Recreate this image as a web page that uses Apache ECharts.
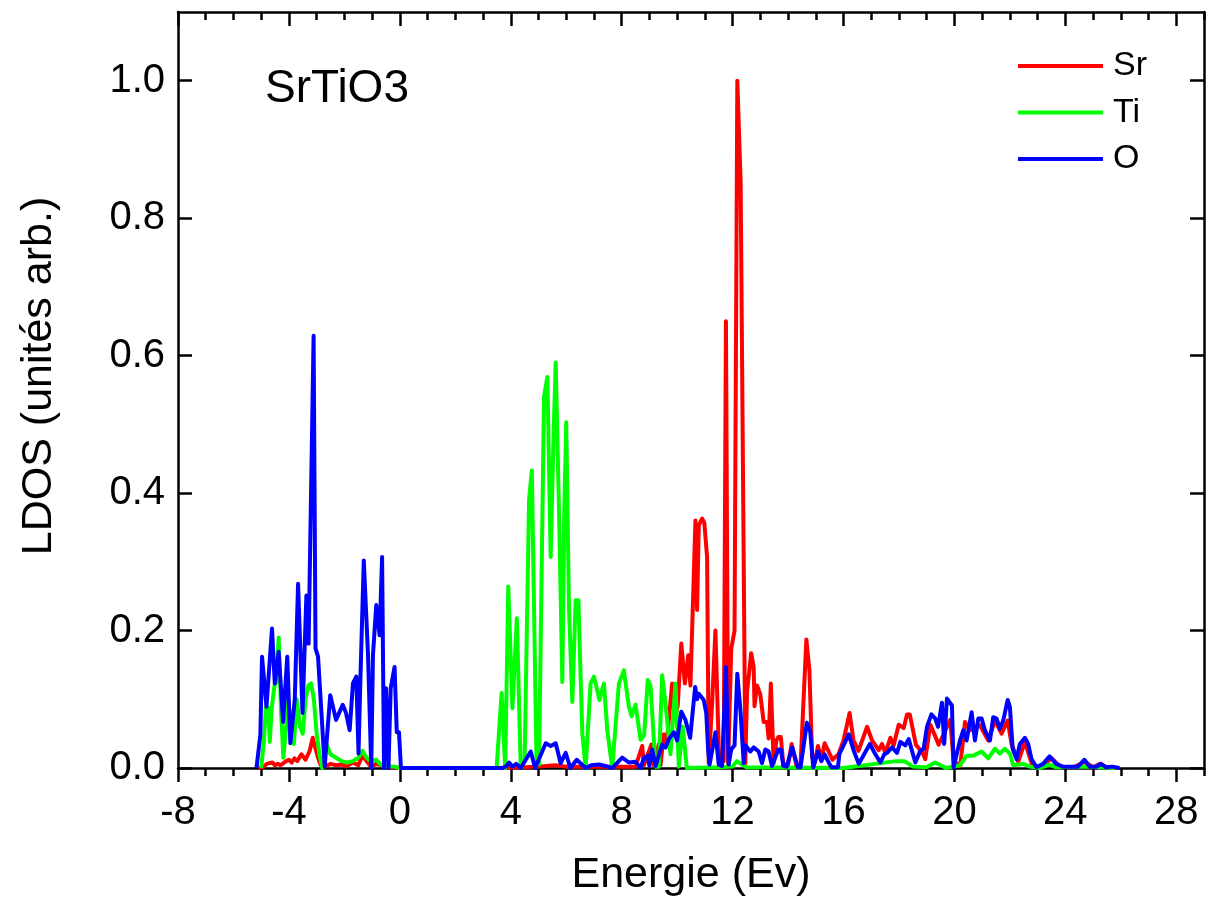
<!DOCTYPE html>
<html>
<head>
<meta charset="utf-8">
<title>SrTiO3 LDOS</title>
<script src="https://cdn.jsdelivr.net/npm/echarts@6/dist/echarts.min.js"></script>
<style>
  html, body { margin: 0; padding: 0; background: #ffffff; }
  #chart { width: 1207px; height: 910px; }
</style>
</head>
<body>
<div id="chart"></div>
<script>
// Axis ticks
const xTicks = [-8, -4, 0, 4, 8, 12, 16, 20, 24, 28];
const yTicks = [0, 0.2, 0.4, 0.6, 0.8, 1.0];

// Legend / series names
const seriesNames = ['Sr', 'Ti', 'O'];

// Partial density of states, [energy (eV), LDOS (arb. units)]
const srDos = [
  [-5.1, 0], [-4.9, 0.002], [-4.8, 0.006], [-4.6, 0.008], [-4.5, 0.004], [-4.4, 0.006], [-4.3, 0.004],
  [-4.1, 0.01], [-4.0, 0.012], [-3.9, 0.008], [-3.8, 0.014], [-3.7, 0.01], [-3.55, 0.02], [-3.4, 0.012],
  [-3.25, 0.025], [-3.14, 0.044], [-3.05, 0.03], [-2.95, 0.015], [-2.85, 0.004], [-2.7, 0.002],
  [-2.5, 0.006], [-2.3, 0.004], [-2.1, 0.005], [-1.9, 0.003], [-1.7, 0.008], [-1.5, 0.004],
  [-1.35, 0.018], [-1.2, 0.01], [-1.05, 0.002], [-0.85, 0.006], [-0.6, 0.003], [-0.4, 0.002], [0.0, 0],
  [3.6, 0], [5.0, 0.002], [5.6, 0.004], [6.0, 0.002], [8.5, 0.002],
  [8.74, 0.032], [8.8, 0.004], [9.07, 0.034], [9.15, 0.004], [9.34, 0.035], [9.4, 0.004],
  [9.52, 0.049], [9.62, 0.035], [9.82, 0.123], [9.94, 0.079], [10.02, 0.09], [10.15, 0.181],
  [10.28, 0.123], [10.40, 0.164], [10.48, 0.12], [10.56, 0.227], [10.66, 0.36], [10.72, 0.23],
  [10.78, 0.353], [10.90, 0.363], [10.98, 0.357], [11.08, 0.307], [11.14, 0.007], [11.26, 0.093],
  [11.38, 0.2], [11.5, 0.03], [11.56, 0.007], [11.68, 0.01], [11.76, 0.65], [11.84, 0.007],
  [11.95, 0.173], [12.07, 0.2], [12.17, 1.0], [12.29, 0.853], [12.46, 0.007], [12.52, 0.11],
  [12.67, 0.167], [12.76, 0.147], [12.79, 0.09], [12.88, 0.12], [13.0, 0.107], [13.12, 0.067],
  [13.24, 0.067], [13.30, 0.043], [13.38, 0.123], [13.48, 0.007], [13.58, 0.04], [13.65, 0.045],
  [13.74, 0.045], [13.83, 0.005], [14.0, 0.005], [14.13, 0.035], [14.3, 0.004], [14.45, 0.004],
  [14.66, 0.187], [14.77, 0.142], [14.87, 0.015], [14.96, 0.008], [15.08, 0.032], [15.2, 0.012],
  [15.32, 0.036], [15.44, 0.026], [15.6, 0.012], [15.82, 0.02], [16.0, 0.04], [16.22, 0.08],
  [16.36, 0.04], [16.54, 0.025], [16.85, 0.06], [17.03, 0.04], [17.27, 0.026], [17.39, 0.035],
  [17.51, 0.022], [17.69, 0.044], [17.81, 0.033], [17.99, 0.063], [18.17, 0.058], [18.29, 0.078],
  [18.39, 0.078], [18.61, 0.034], [18.85, 0.022], [18.95, 0.013], [19.13, 0.063], [19.31, 0.046],
  [19.43, 0.034], [19.55, 0.044], [19.85, 0.07], [19.97, 0.01], [20.21, 0.003], [20.38, 0.067],
  [20.56, 0.055], [20.92, 0.062], [21.22, 0.04], [21.46, 0.069], [21.70, 0.05], [21.92, 0.069],
  [22.06, 0.035], [22.30, 0.009], [22.54, 0.038], [22.79, 0.006], [23.07, 0.001], [23.51, 0.014],
  [23.81, 0.002], [24.29, 0.001], [24.71, 0.009], [25.01, 0.001], [25.25, 0.006], [25.49, 0.001],
  [25.85, 0]
];

const tiDos = [
  [-5.0, 0], [-4.9, 0.04], [-4.83, 0.089], [-4.75, 0.088], [-4.69, 0.038], [-4.62, 0.087],
  [-4.52, 0.12], [-4.45, 0.125], [-4.37, 0.19], [-4.28, 0.08], [-4.2, 0.015], [-4.1, 0.06],
  [-4.02, 0.1], [-3.92, 0.05], [-3.82, 0.035], [-3.72, 0.1], [-3.6, 0.06], [-3.5, 0.05],
  [-3.4, 0.1], [-3.3, 0.12], [-3.2, 0.123], [-3.1, 0.1], [-3.0, 0.05], [-2.9, 0.02], [-2.8, 0.0],
  [-2.65, 0.035], [-2.5, 0.02], [-2.3, 0.015], [-2.1, 0.01], [-1.9, 0.008], [-1.7, 0.01],
  [-1.5, 0.015], [-1.35, 0.025], [-1.2, 0.015], [-1.05, 0.01], [-0.85, 0.012], [-0.7, 0.005],
  [-0.5, 0.003], [-0.2, 0.002], [0.0, 0],
  [3.49, 0], [3.67, 0.109], [3.80, 0], [3.91, 0.264], [4.06, 0.087], [4.22, 0.218], [4.36, 0],
  [4.50, 0.01], [4.66, 0.39], [4.76, 0.433], [4.93, 0.005], [5.02, 0.005], [5.20, 0.54],
  [5.32, 0.569], [5.44, 0.307], [5.53, 0.462], [5.62, 0.590], [5.74, 0.375], [5.86, 0.125],
  [5.92, 0.351], [6.00, 0.503], [6.10, 0.234], [6.22, 0.096], [6.34, 0.244], [6.44, 0.244],
  [6.58, 0.05], [6.70, 0], [6.88, 0.123], [7.0, 0.133], [7.2, 0.099], [7.36, 0.123], [7.48, 0.055],
  [7.66, 0], [7.90, 0.123], [8.08, 0.142], [8.26, 0.089], [8.36, 0.075], [8.50, 0.092],
  [8.68, 0.041], [8.81, 0.048], [8.94, 0.128], [9.04, 0.12], [9.22, 0.002], [9.34, 0.002],
  [9.46, 0.135], [9.58, 0.094], [9.76, 0.02], [9.94, 0.123], [10.06, 0.002], [10.20, 0.06],
  [10.35, 0], [11.5, 0.001], [12.0, 0.002], [12.15, 0.01], [12.3, 0.006], [12.5, 0.001],
  [16.0, 0.0], [17.9, 0.01], [18.2, 0.01], [18.5, 0.002], [19.0, 0.001], [19.3, 0.008],
  [19.7, 0.0], [20.2, 0.004], [20.44, 0.018], [20.68, 0.018], [20.98, 0.024], [21.22, 0.014],
  [21.46, 0.028], [21.64, 0.021], [21.82, 0.028], [22.0, 0.021], [22.12, 0.004], [22.48, 0.006],
  [22.72, 0.002], [23.07, 0], [23.43, 0.005], [23.67, 0.001], [24.7, 0.002], [25.8, 0]
];

const oDos = [
  [-5.17, 0], [-5.03, 0.048], [-4.97, 0.162], [-4.81, 0.089], [-4.61, 0.203], [-4.51, 0.123],
  [-4.37, 0.169], [-4.21, 0.067], [-4.06, 0.162], [-3.95, 0.036], [-3.79, 0.099], [-3.67, 0.268],
  [-3.51, 0.08], [-3.37, 0.251], [-3.29, 0.181], [-3.11, 0.629], [-3.04, 0.174], [-2.95, 0.162],
  [-2.71, 0.002], [-2.51, 0.106], [-2.30, 0.07], [-2.06, 0.092], [-1.94, 0.08], [-1.81, 0.055],
  [-1.69, 0.123], [-1.57, 0.133], [-1.49, 0.021], [-1.42, 0.133], [-1.30, 0.302], [-1.15, 0.167],
  [-1.03, 0.0], [-0.97, 0.164], [-0.85, 0.237], [-0.78, 0.237], [-0.73, 0.193], [-0.64, 0.307],
  [-0.57, 0.0], [-0.50, 0.116], [-0.41, 0], [-0.33, 0.116], [-0.19, 0.147], [-0.11, 0.052],
  [-0.03, 0.052], [0.04, 0],
  [3.7, 0], [3.85, 0.003], [3.94, 0.008], [4.05, 0.002], [4.2, 0.006], [4.36, 0], [4.72, 0.024],
  [4.88, 0], [5.26, 0.036], [5.44, 0.032], [5.62, 0.036], [5.80, 0.007], [5.98, 0.022], [6.15, 0],
  [6.38, 0.012], [6.7, 0], [6.9, 0.004], [7.2, 0.005], [7.4, 0.003], [7.66, 0], [8.02, 0.015],
  [8.26, 0.008], [8.5, 0.009], [8.68, 0], [8.81, 0.015], [8.94, 0.018], [9.0, 0.003], [9.10, 0.027],
  [9.22, 0.003], [9.46, 0.034], [9.58, 0.03], [9.70, 0.042], [9.88, 0.052], [10.0, 0.04],
  [10.15, 0.082], [10.3, 0.07], [10.47, 0.044], [10.65, 0.118], [10.72, 0.1], [10.78, 0.108],
  [10.96, 0.099], [11.05, 0.08], [11.12, 0.025], [11.17, 0.005], [11.26, 0.025], [11.38, 0.052],
  [11.5, 0.005], [11.62, 0.003], [11.76, 0.147], [11.86, 0.005], [11.95, 0.027], [12.07, 0.033],
  [12.17, 0.137], [12.29, 0.08], [12.40, 0.007], [12.46, 0.033], [12.64, 0.024], [12.76, 0.03],
  [12.94, 0.024], [13.06, 0.007], [13.18, 0.027], [13.30, 0.024], [13.42, 0.003], [13.65, 0.027],
  [13.74, 0.027], [13.83, 0.003], [13.95, 0.002], [14.15, 0.03], [14.35, 0.001], [14.45, 0.001],
  [14.68, 0.066], [14.8, 0.053], [14.91, 0.001], [15.08, 0.024], [15.2, 0.01], [15.32, 0.02],
  [15.44, 0.01], [15.56, 0.001], [15.8, 0.001], [15.85, 0.02], [16.19, 0.049], [16.37, 0.025],
  [16.55, 0.006], [16.95, 0.035], [17.15, 0.02], [17.33, 0.008], [17.47, 0.02], [17.57, 0.022],
  [17.75, 0.03], [17.93, 0.022], [18.05, 0.038], [18.23, 0.033], [18.35, 0.042], [18.59, 0.008],
  [18.77, 0.025], [18.89, 0.028], [19.01, 0.06], [19.17, 0.078], [19.31, 0.072], [19.41, 0.06],
  [19.55, 0.095], [19.63, 0.035], [19.73, 0.101], [19.91, 0.091], [19.97, 0.001], [20.2, 0.04],
  [20.32, 0.055], [20.44, 0.04], [20.62, 0.081], [20.74, 0.04], [20.86, 0.072], [20.98, 0.072],
  [21.10, 0.055], [21.28, 0.04], [21.40, 0.074], [21.52, 0.072], [21.64, 0.057], [21.76, 0.069],
  [21.92, 0.099], [22.0, 0.089], [22.10, 0.028], [22.24, 0.013], [22.36, 0.035], [22.54, 0.044],
  [22.66, 0.035], [22.78, 0.013], [22.96, 0.001], [23.2, 0.006], [23.43, 0.017], [23.67, 0.006],
  [23.91, 0.002], [24.45, 0.002], [24.69, 0.012], [24.87, 0.002], [25.11, 0.002], [25.29, 0.006],
  [25.47, 0.001], [25.69, 0.002], [25.95, 0]
];

const seriesData = [srDos, tiDos, oDos];
const seriesColors = ['#ff0000', '#00ff00', '#0000ff'];

const FONT = "'Liberation Sans', Arial, Helvetica, sans-serif";
const axisLineStyle = { color: '#000000', width: 2.5 };
const gridBox = { left: 178, right: 3, top: 12, bottom: 142 };

const chart = echarts.init(document.getElementById('chart'), null, { renderer: 'canvas' });

const option = {
  animation: false,
  backgroundColor: '#ffffff',
  title: {
    text: 'SrTiO3',
    left: 265,
    top: 66,
    padding: 0,
    textStyle: { fontFamily: FONT, fontSize: 46, fontWeight: 'normal', color: '#000000' }
  },
  legend: {
    data: seriesNames,
    orient: 'vertical',
    left: 1018,
    top: 49,
    padding: 0,
    itemGap: 12.5,
    itemWidth: 85,
    itemHeight: 4,
    icon: 'rect',
    textStyle: { fontFamily: FONT, fontSize: 34, lineHeight: 34, color: '#000000', padding: [0, 0, 0, 5] }
  },
  grid: [
    Object.assign({}, gridBox),
    Object.assign({}, gridBox)
  ],
  xAxis: [
    {
      gridIndex: 0, type: 'value', position: 'bottom', min: -8, max: 29, interval: 4,
      name: 'Energie (Ev)', nameLocation: 'middle', nameGap: 86,
      nameTextStyle: { fontFamily: FONT, fontSize: 43, color: '#000000' },
      axisLine: { show: true, onZero: false, lineStyle: axisLineStyle },
      axisTick: { show: true, inside: false, length: 14, customValues: xTicks, lineStyle: axisLineStyle },
      axisLabel: { customValues: xTicks, fontFamily: FONT, fontSize: 40, color: '#000000', margin: 25,
                   formatter: v => String(v) },
      splitLine: { show: false }
    },
    {
      gridIndex: 0, type: 'value', position: 'top', min: -8, max: 29, interval: 4,
      axisLine: { show: true, onZero: false, lineStyle: axisLineStyle },
      axisTick: { show: true, inside: true, length: 14, customValues: xTicks, lineStyle: axisLineStyle },
      axisLabel: { show: false },
      splitLine: { show: false }
    },
    {
      gridIndex: 1, type: 'value', position: 'bottom', min: -8, max: 29, interval: 1,
      axisLine: { show: false, onZero: false },
      axisTick: { show: true, inside: false, length: 8, lineStyle: axisLineStyle },
      axisLabel: { show: false },
      splitLine: { show: false }
    },
    {
      gridIndex: 1, type: 'value', position: 'top', min: -8, max: 29, interval: 1,
      axisLine: { show: false, onZero: false },
      axisTick: { show: true, inside: true, length: 8, lineStyle: axisLineStyle },
      axisLabel: { show: false },
      splitLine: { show: false }
    }
  ],
  yAxis: [
    {
      gridIndex: 0, type: 'value', position: 'left', min: 0, max: 1.1, interval: 0.2,
      name: 'LDOS (unités arb.)', nameLocation: 'middle', nameGap: 117, nameRotate: 90,
      nameTextStyle: { fontFamily: FONT, fontSize: 43, color: '#000000', padding: [0, 0, 0, 28] },
      axisLine: { show: true, onZero: false, lineStyle: axisLineStyle },
      axisTick: { show: true, inside: true, length: 14, customValues: yTicks, lineStyle: axisLineStyle },
      axisLabel: { customValues: yTicks, fontFamily: FONT, fontSize: 40, color: '#000000', margin: 13,
                   formatter: v => v.toFixed(1) },
      splitLine: { show: false }
    },
    {
      gridIndex: 0, type: 'value', position: 'right', min: 0, max: 1.1, interval: 0.2,
      axisLine: { show: true, onZero: false, lineStyle: axisLineStyle },
      axisTick: { show: true, inside: true, length: 14, customValues: yTicks, lineStyle: axisLineStyle },
      axisLabel: { show: false },
      splitLine: { show: false }
    },
    {
      gridIndex: 1, type: 'value', min: 0, max: 1.1, show: false
    }
  ],
  series: seriesNames.map((name, i) => ({
    name: name,
    type: 'line',
    xAxisIndex: 0,
    yAxisIndex: 0,
    data: seriesData[i],
    showSymbol: false,
    symbol: 'none',
    clip: true,
    z: 2 + i,
    itemStyle: { color: seriesColors[i] },
    lineStyle: { color: seriesColors[i], width: 4, join: 'round' }
  }))
};

chart.setOption(option);
</script>
</body>
</html>
